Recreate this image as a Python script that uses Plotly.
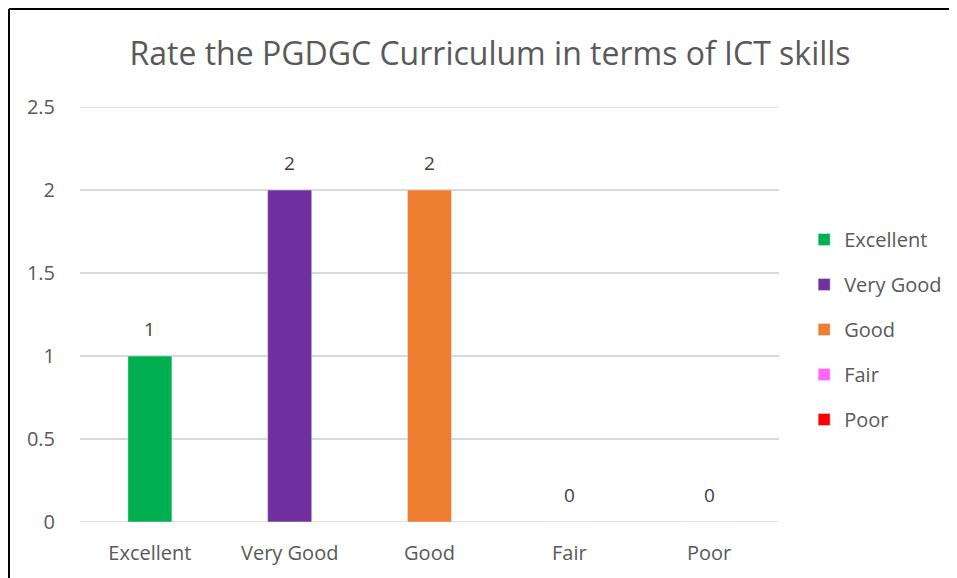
import plotly.graph_objects as go

categories = ["Excellent", "Very Good", "Good", "Fair", "Poor"]
values = [1, 2, 2, 0, 0]
colors = ["#00B050", "#7030A0", "#ED7D31", "#FF66FF", "#FF0000"]
y_ticks = [0, 0.5, 1, 1.5, 2, 2.5]
y_tick_labels = ["0", "0.5", "1", "1.5", "2", "2.5"]
title_text = "Rate the PGDGC Curriculum in terms of ICT skills"

FONT = "Open Sans"
GRID = "#D9D9D9"
fig = go.Figure()
for i, (c, v, col) in enumerate(zip(categories, values, colors)):
    fig.add_trace(go.Bar(
        x=[c], y=[v], name=c, marker_color=col, width=0.315,
        legendgroup=c,
    ))
    fig.add_annotation(x=c, y=v, text=str(v), showarrow=False,
                       yanchor="bottom", yshift=12,
                       font=dict(family=FONT, size=19, color="#404040"))

# gridlines at range edges
for yv in (y_ticks[0], y_ticks[-1]):
    fig.add_shape(type="line", xref="paper", yref="y", x0=0, x1=1, y0=yv, y1=yv,
                  line=dict(color=GRID, width=1.5), layer="below")

# chart border (left and top)
bx = -0.1016
by = 1.236
fig.add_shape(type="line", xref="paper", yref="paper", x0=bx, x1=bx, y0=-0.3, y1=by,
              line=dict(color="black", width=2))
fig.add_shape(type="line", xref="paper", yref="paper", x0=bx, x1=1.4, y0=by, y1=by,
              line=dict(color="black", width=2))

fig.update_layout(
    width=957, height=578,
    margin=dict(l=72, r=186, t=99, b=64),
    paper_bgcolor="white", plot_bgcolor="white",
    barmode="overlay",
    font=dict(family=FONT, color="#595959", size=20),
    title=dict(text=title_text, x=0.5866, xanchor="center", xref="paper",
               y=1 - 46 / 578, yanchor="middle",
               font=dict(family=FONT, size=32, color="#595959")),
    xaxis=dict(categoryorder="array", categoryarray=categories, showgrid=False,
               showline=False, ticks="", ticklabelstandoff=17,
               tickfont=dict(size=20, color="#595959")),
    yaxis=dict(range=[0, 2.5], tickvals=y_ticks, ticktext=y_tick_labels,
               showgrid=True, gridcolor=GRID, gridwidth=1.5, zeroline=False,
               showline=False, ticks="", ticklabelstandoff=24,
               tickfont=dict(size=20, color="#595959")),
    legend=dict(x=1.036, xanchor="left", y=(514 - 212) / 415, yanchor="top",
                font=dict(family=FONT, size=20, color="#595959"),
                tracegroupgap=16, bgcolor="rgba(0,0,0,0)"),
    showlegend=True,
)
fig.write_html("out.html")
